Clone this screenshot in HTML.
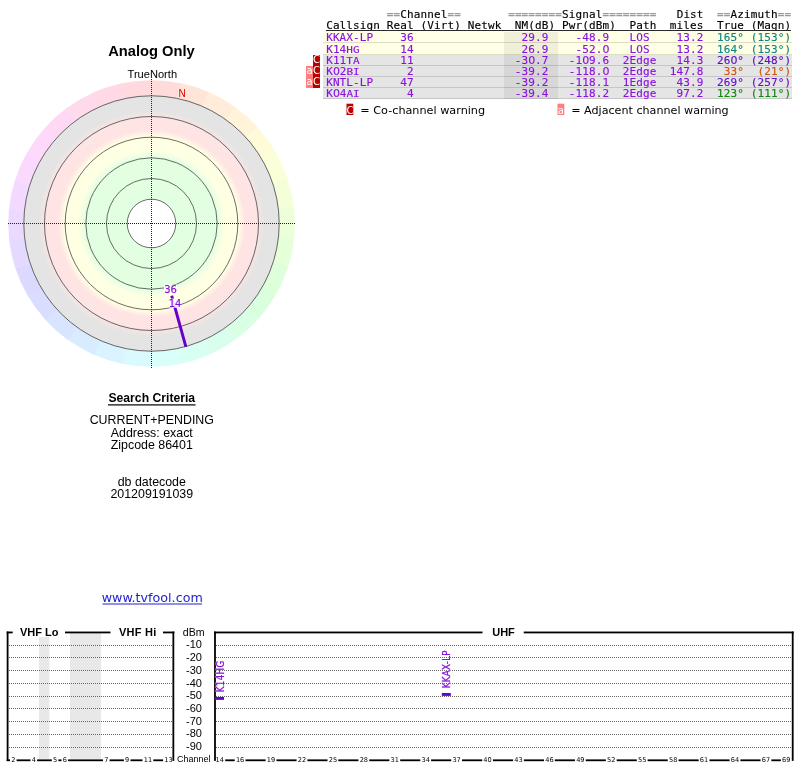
<!DOCTYPE html>
<html lang="en"><head><meta charset="utf-8"><title>TV Fool - Analog Only</title>
<style>
html,body{margin:0;padding:0;background:#fff;}
body{width:800px;height:768px;position:relative;overflow:hidden;}
pre{margin:0;font-family:"DejaVu Sans Mono","Liberation Mono",monospace;font-size:11px;letter-spacing:0.117px;line-height:11px;white-space:pre;position:absolute;left:326.15px;transform:scaleY(0.875);transform-origin:0 9.3px;-webkit-text-stroke:0.15px;}
pre i{font-style:normal;color:#999;font-weight:bold;}
pre b{font-weight:normal;font-family:"DejaVu Sans","Liberation Sans",sans-serif;display:inline-block;width:6.739px;text-align:center;letter-spacing:0;}
.h1{top:8.8px;color:#000;}
.h2{top:19.6px;color:#000;}
.ul{position:absolute;left:326px;top:30.25px;width:465px;height:0.95px;background:#2a2a2a;}
.row{position:absolute;left:323px;width:469px;height:11.15px;box-sizing:border-box;border-bottom:1px solid #c6c6c6;}
.row.y{background:#ffffe6;border-bottom-color:#deddc6;}
.row.g{background:#e5e5e5;}
.row pre{left:3.15px;color:#8a12de;}
.row.first{margin-top:-1px;height:12.15px;padding-top:1px;}
.row.first .nm,.row.first .wa,.row.first .wc{top:1px}

.nm{position:absolute;left:181px;top:0;width:54px;height:11.15px;background:rgba(0,0,0,0.06);}
.sc{display:inline-block;transform:scaleY(0.86);transform-origin:0 9.3px;}
.wa,.wc{position:absolute;top:0;height:11.15px;width:6.8px;font:10px/10.6px "DejaVu Sans","Liberation Sans",sans-serif;color:#fff;text-align:center;}
.wa{left:-16.8px;background:#ff7f7f;}
.wc{left:-10px;background:#bb0000;}
</style></head>
<body>
<svg width="800" height="768" viewBox="0 0 800 768" style="position:absolute;left:0;top:0">
<defs><radialGradient id="bands" gradientUnits="userSpaceOnUse" cx="151.5" cy="223.5" r="128">
<stop offset="0.0000" stop-color="#e2ffe2"/>
<stop offset="0.5156" stop-color="#e2ffe2"/>
<stop offset="0.5742" stop-color="#ffffe4"/>
<stop offset="0.6797" stop-color="#ffffe4"/>
<stop offset="0.7305" stop-color="#ffe4e4"/>
<stop offset="0.8203" stop-color="#ffe4e4"/>
<stop offset="0.8828" stop-color="#e4e4e4"/>
<stop offset="1.0000" stop-color="#e4e4e4"/>
</radialGradient></defs>
<path d="M151.50 223.50 L150.25 80.21 A143.3 143.3 0 0 1 180.56 83.18 Z" fill="#ffdcd9"/>
<path d="M151.50 223.50 L180.07 83.08 A143.3 143.3 0 0 1 209.10 92.29 Z" fill="#ffe4d9"/>
<path d="M151.50 223.50 L208.64 92.09 A143.3 143.3 0 0 1 235.12 107.13 Z" fill="#ffecd9"/>
<path d="M151.50 223.50 L234.71 106.84 A143.3 143.3 0 0 1 257.49 127.06 Z" fill="#fff3d9"/>
<path d="M151.50 223.50 L257.15 126.69 A143.3 143.3 0 0 1 275.22 151.20 Z" fill="#fffbd9"/>
<path d="M151.50 223.50 L274.97 150.77 A143.3 143.3 0 0 1 287.55 178.50 Z" fill="#fbffd9"/>
<path d="M151.50 223.50 L287.39 178.03 A143.3 143.3 0 0 1 293.93 207.78 Z" fill="#f4ffd9"/>
<path d="M151.50 223.50 L293.88 207.28 A143.3 143.3 0 0 1 294.09 237.73 Z" fill="#ecffd9"/>
<path d="M151.50 223.50 L294.14 237.23 A143.3 143.3 0 0 1 288.02 267.07 Z" fill="#e5ffd9"/>
<path d="M151.50 223.50 L288.17 266.59 A143.3 143.3 0 0 1 275.97 294.50 Z" fill="#ddffd9"/>
<path d="M151.50 223.50 L276.22 294.06 A143.3 143.3 0 0 1 258.49 318.83 Z" fill="#d9ffdc"/>
<path d="M151.50 223.50 L258.83 318.45 A143.3 143.3 0 0 1 236.34 338.99 Z" fill="#d9ffe4"/>
<path d="M151.50 223.50 L236.74 338.69 A143.3 143.3 0 0 1 210.47 354.10 Z" fill="#d9ffec"/>
<path d="M151.50 223.50 L210.93 353.90 A143.3 143.3 0 0 1 182.03 363.51 Z" fill="#d9fff3"/>
<path d="M151.50 223.50 L182.52 363.40 A143.3 143.3 0 0 1 152.25 366.80 Z" fill="#d9fffb"/>
<path d="M151.50 223.50 L152.75 366.79 A143.3 143.3 0 0 1 122.44 363.82 Z" fill="#d9fbff"/>
<path d="M151.50 223.50 L122.93 363.92 A143.3 143.3 0 0 1 93.90 354.71 Z" fill="#d9f4ff"/>
<path d="M151.50 223.50 L94.36 354.91 A143.3 143.3 0 0 1 67.88 339.87 Z" fill="#d9ecff"/>
<path d="M151.50 223.50 L68.29 340.16 A143.3 143.3 0 0 1 45.51 319.94 Z" fill="#d9e5ff"/>
<path d="M151.50 223.50 L45.85 320.31 A143.3 143.3 0 0 1 27.78 295.80 Z" fill="#d9ddff"/>
<path d="M151.50 223.50 L28.03 296.23 A143.3 143.3 0 0 1 15.45 268.50 Z" fill="#dcd9ff"/>
<path d="M151.50 223.50 L15.61 268.97 A143.3 143.3 0 0 1 9.07 239.22 Z" fill="#e4d9ff"/>
<path d="M151.50 223.50 L9.12 239.72 A143.3 143.3 0 0 1 8.91 209.27 Z" fill="#ecd9ff"/>
<path d="M151.50 223.50 L8.86 209.77 A143.3 143.3 0 0 1 14.98 179.93 Z" fill="#f3d9ff"/>
<path d="M151.50 223.50 L14.83 180.41 A143.3 143.3 0 0 1 27.03 152.50 Z" fill="#fbd9ff"/>
<path d="M151.50 223.50 L26.78 152.94 A143.3 143.3 0 0 1 44.51 128.17 Z" fill="#ffd9fb"/>
<path d="M151.50 223.50 L44.17 128.55 A143.3 143.3 0 0 1 66.66 108.01 Z" fill="#ffd9f4"/>
<path d="M151.50 223.50 L66.26 108.31 A143.3 143.3 0 0 1 92.53 92.90 Z" fill="#ffd9ec"/>
<path d="M151.50 223.50 L92.07 93.10 A143.3 143.3 0 0 1 120.97 83.49 Z" fill="#ffd9e5"/>
<path d="M151.50 223.50 L120.48 83.60 A143.3 143.3 0 0 1 150.75 80.20 Z" fill="#ffd9dd"/>
<circle cx="151.5" cy="223.5" r="128" fill="url(#bands)"/>
<circle cx="151.5" cy="223.5" r="24.3" fill="#fff"/>
<circle cx="151.5" cy="223.5" r="24.3" fill="none" stroke="#333" stroke-width="0.72"/>
<circle cx="151.5" cy="223.5" r="45" fill="none" stroke="#333" stroke-width="0.72"/>
<circle cx="151.5" cy="223.5" r="65.7" fill="none" stroke="#333" stroke-width="0.72"/>
<circle cx="151.5" cy="223.5" r="86.3" fill="none" stroke="#333" stroke-width="0.72"/>
<circle cx="151.5" cy="223.5" r="107" fill="none" stroke="#333" stroke-width="0.72"/>
<circle cx="151.5" cy="223.5" r="127.7" fill="none" stroke="#333" stroke-width="0.72"/>
<line x1="8" y1="223.5" x2="296" y2="223.5" stroke="#222" stroke-width="1" stroke-dasharray="1 1" shape-rendering="crispEdges"/>
<line x1="151.5" y1="79" x2="151.5" y2="368" stroke="#222" stroke-width="1" stroke-dasharray="1 1" shape-rendering="crispEdges"/>
<line x1="171.67" y1="295.74" x2="185.92" y2="346.78" stroke="#6600cc" stroke-width="2.9"/>
<rect x="164" y="284.6" width="13" height="9.4" fill="#fff" fill-opacity="0.9"/>
<text x="170.5" y="293" text-anchor="middle" font-family="'DejaVu Sans','Liberation Sans',sans-serif" font-size="10" fill="#8614dc" stroke="#8614dc" stroke-width="0.2">36</text>
<rect x="169.2" y="298.5" width="11.6" height="9.2" fill="#fff" fill-opacity="0.9"/>
<text x="175" y="306.8" text-anchor="middle" font-family="'DejaVu Sans','Liberation Sans',sans-serif" font-size="10" fill="#8614dc" stroke="#8614dc" stroke-width="0.2">14</text>
<text x="151.5" y="55.6" text-anchor="middle" font-family="'Liberation Sans',Arial,sans-serif" font-size="14.7" font-weight="bold" fill="#000">Analog Only</text>
<text x="152.3" y="77.8" text-anchor="middle" font-family="'Liberation Sans',Arial,sans-serif" font-size="11.1" fill="#000">TrueNorth</text>
<text x="182" y="96.6" text-anchor="middle" font-family="'Liberation Sans',Arial,sans-serif" font-size="10" fill="#dd0000">N</text>
<text x="151.8" y="401.9" text-anchor="middle" font-family="'Liberation Sans',Arial,sans-serif" font-size="12.2" font-weight="bold" fill="#000">Search Criteria</text>
<rect x="108" y="404.3" width="87.5" height="1.2" fill="#000"/>
<text x="151.8" y="423.6" text-anchor="middle" font-family="'Liberation Sans',Arial,sans-serif" font-size="12.4" fill="#000">CURRENT+PENDING</text>
<text x="151.8" y="436.9" text-anchor="middle" font-family="'Liberation Sans',Arial,sans-serif" font-size="12.4" fill="#000">Address: exact</text>
<text x="151.8" y="449" text-anchor="middle" font-family="'Liberation Sans',Arial,sans-serif" font-size="12.4" fill="#000">Zipcode 86401</text>
<text x="151.8" y="485.8" text-anchor="middle" font-family="'Liberation Sans',Arial,sans-serif" font-size="12.4" fill="#000">db datecode</text>
<text x="151.8" y="497.5" text-anchor="middle" font-family="'Liberation Sans',Arial,sans-serif" font-size="12.4" fill="#000">201209191039</text>
<text x="152.2" y="601.6" text-anchor="middle" font-family="'DejaVu Sans','Liberation Sans',sans-serif" font-size="12.7" fill="#2222cc">www.tvfool.com</text>
<rect x="102.5" y="603.5" width="99.5" height="1" fill="#2222cc"/>
<rect x="346.5" y="103.7" width="6.8" height="11.3" fill="#bb0000"/>
<text x="349.9" y="113.6" text-anchor="middle" font-family="'DejaVu Sans','Liberation Sans',sans-serif" font-size="10" fill="#fff">C</text>
<text x="360.3" y="114.2" font-family="'DejaVu Sans','Liberation Sans',sans-serif" font-size="11.22" fill="#000">= Co-channel warning</text>
<rect x="557.5" y="103.7" width="6.8" height="11.3" fill="#ff7f7f"/>
<text x="560.9" y="113.6" text-anchor="middle" font-family="'DejaVu Sans','Liberation Sans',sans-serif" font-size="10" fill="#fff">a</text>
<text x="571.2" y="114.2" font-family="'DejaVu Sans','Liberation Sans',sans-serif" font-size="11.15" fill="#000">= Adjacent channel warning</text>
<rect x="39" y="637" width="10.3" height="122" fill="#e8e8e8"/>
<rect x="70" y="633" width="31" height="126" fill="#e8e8e8"/>
<line x1="9" y1="645.5" x2="172" y2="645.5" stroke="#666" stroke-width="1" stroke-dasharray="1 1" shape-rendering="crispEdges"/>
<line x1="216" y1="645.5" x2="792" y2="645.5" stroke="#666" stroke-width="1" stroke-dasharray="1 1" shape-rendering="crispEdges"/>
<line x1="9" y1="657.5" x2="172" y2="657.5" stroke="#666" stroke-width="1" stroke-dasharray="1 1" shape-rendering="crispEdges"/>
<line x1="216" y1="657.5" x2="792" y2="657.5" stroke="#666" stroke-width="1" stroke-dasharray="1 1" shape-rendering="crispEdges"/>
<line x1="9" y1="670.5" x2="172" y2="670.5" stroke="#666" stroke-width="1" stroke-dasharray="1 1" shape-rendering="crispEdges"/>
<line x1="216" y1="670.5" x2="792" y2="670.5" stroke="#666" stroke-width="1" stroke-dasharray="1 1" shape-rendering="crispEdges"/>
<line x1="9" y1="683.5" x2="172" y2="683.5" stroke="#666" stroke-width="1" stroke-dasharray="1 1" shape-rendering="crispEdges"/>
<line x1="216" y1="683.5" x2="792" y2="683.5" stroke="#666" stroke-width="1" stroke-dasharray="1 1" shape-rendering="crispEdges"/>
<line x1="9" y1="696.5" x2="172" y2="696.5" stroke="#666" stroke-width="1" stroke-dasharray="1 1" shape-rendering="crispEdges"/>
<line x1="216" y1="696.5" x2="792" y2="696.5" stroke="#666" stroke-width="1" stroke-dasharray="1 1" shape-rendering="crispEdges"/>
<line x1="9" y1="708.5" x2="172" y2="708.5" stroke="#666" stroke-width="1" stroke-dasharray="1 1" shape-rendering="crispEdges"/>
<line x1="216" y1="708.5" x2="792" y2="708.5" stroke="#666" stroke-width="1" stroke-dasharray="1 1" shape-rendering="crispEdges"/>
<line x1="9" y1="721.5" x2="172" y2="721.5" stroke="#666" stroke-width="1" stroke-dasharray="1 1" shape-rendering="crispEdges"/>
<line x1="216" y1="721.5" x2="792" y2="721.5" stroke="#666" stroke-width="1" stroke-dasharray="1 1" shape-rendering="crispEdges"/>
<line x1="9" y1="734.5" x2="172" y2="734.5" stroke="#666" stroke-width="1" stroke-dasharray="1 1" shape-rendering="crispEdges"/>
<line x1="216" y1="734.5" x2="792" y2="734.5" stroke="#666" stroke-width="1" stroke-dasharray="1 1" shape-rendering="crispEdges"/>
<line x1="9" y1="747.5" x2="172" y2="747.5" stroke="#666" stroke-width="1" stroke-dasharray="1 1" shape-rendering="crispEdges"/>
<line x1="216" y1="747.5" x2="792" y2="747.5" stroke="#666" stroke-width="1" stroke-dasharray="1 1" shape-rendering="crispEdges"/>
<rect x="6.7" y="631.55" width="1.8" height="129.35" fill="#000"/>
<rect x="172.45" y="631.55" width="1.8" height="129.35" fill="#000"/>
<rect x="6.7" y="631.55" width="6" height="1.8" fill="#000"/>
<rect x="65" y="631.55" width="45.5" height="1.8" fill="#000"/>
<rect x="163" y="631.55" width="11.4" height="1.8" fill="#000"/>
<text x="20" y="635.7" font-family="'Liberation Sans',Arial,sans-serif" font-size="11" font-weight="bold" fill="#000">VHF Lo</text>
<text x="119" y="635.7" font-family="'Liberation Sans',Arial,sans-serif" font-size="11" font-weight="bold" letter-spacing="0.25" fill="#000">VHF Hi</text>
<rect x="214.1" y="631.55" width="1.8" height="129.35" fill="#000"/>
<rect x="791.8" y="631.55" width="1.8" height="129.35" fill="#000"/>
<rect x="214" y="631.55" width="268.5" height="1.8" fill="#000"/>
<rect x="523.7" y="631.55" width="270" height="1.8" fill="#000"/>
<text x="503.5" y="635.7" text-anchor="middle" font-family="'Liberation Sans',Arial,sans-serif" font-size="11" font-weight="bold" fill="#000">UHF</text>
<text x="193.7" y="635.6" text-anchor="middle" font-family="'Liberation Sans',Arial,sans-serif" font-size="10.6" fill="#000">dBm</text>
<text x="194" y="648.35" text-anchor="middle" font-family="'Liberation Sans',Arial,sans-serif" font-size="11" fill="#000">-10</text>
<text x="194" y="661.07" text-anchor="middle" font-family="'Liberation Sans',Arial,sans-serif" font-size="11" fill="#000">-20</text>
<text x="194" y="673.79" text-anchor="middle" font-family="'Liberation Sans',Arial,sans-serif" font-size="11" fill="#000">-30</text>
<text x="194" y="686.51" text-anchor="middle" font-family="'Liberation Sans',Arial,sans-serif" font-size="11" fill="#000">-40</text>
<text x="194" y="699.23" text-anchor="middle" font-family="'Liberation Sans',Arial,sans-serif" font-size="11" fill="#000">-50</text>
<text x="194" y="711.95" text-anchor="middle" font-family="'Liberation Sans',Arial,sans-serif" font-size="11" fill="#000">-60</text>
<text x="194" y="724.67" text-anchor="middle" font-family="'Liberation Sans',Arial,sans-serif" font-size="11" fill="#000">-70</text>
<text x="194" y="737.39" text-anchor="middle" font-family="'Liberation Sans',Arial,sans-serif" font-size="11" fill="#000">-80</text>
<text x="194" y="750.11" text-anchor="middle" font-family="'Liberation Sans',Arial,sans-serif" font-size="11" fill="#000">-90</text>
<text x="193.7" y="761.6" text-anchor="middle" font-family="'Liberation Sans',Arial,sans-serif" font-size="9" fill="#000">Channel</text>
<rect x="6.7" y="759.4" width="3.3" height="1.8" fill="#000"/>
<rect x="16.6" y="759.4" width="13.9" height="1.8" fill="#000"/>
<rect x="37.1" y="759.4" width="14.7" height="1.8" fill="#000"/>
<rect x="58.4" y="759.4" width="3.1" height="1.8" fill="#000"/>
<rect x="68.1" y="759.4" width="34.9" height="1.8" fill="#000"/>
<rect x="109.6" y="759.4" width="14.3" height="1.8" fill="#000"/>
<rect x="130.5" y="759.4" width="12" height="1.8" fill="#000"/>
<rect x="153.3" y="759.4" width="9.8" height="1.8" fill="#000"/>
<text x="13.3" y="761.9" text-anchor="middle" font-family="'DejaVu Sans','Liberation Sans',sans-serif" font-size="6.6" fill="#000">2</text>
<text x="33.8" y="761.9" text-anchor="middle" font-family="'DejaVu Sans','Liberation Sans',sans-serif" font-size="6.6" fill="#000">4</text>
<text x="55.1" y="761.9" text-anchor="middle" font-family="'DejaVu Sans','Liberation Sans',sans-serif" font-size="6.6" fill="#000">5</text>
<text x="64.8" y="761.9" text-anchor="middle" font-family="'DejaVu Sans','Liberation Sans',sans-serif" font-size="6.6" fill="#000">6</text>
<text x="106.3" y="761.9" text-anchor="middle" font-family="'DejaVu Sans','Liberation Sans',sans-serif" font-size="6.6" fill="#000">7</text>
<text x="127.2" y="761.9" text-anchor="middle" font-family="'DejaVu Sans','Liberation Sans',sans-serif" font-size="6.6" fill="#000">9</text>
<text x="147.9" y="761.9" text-anchor="middle" font-family="'DejaVu Sans','Liberation Sans',sans-serif" font-size="6.6" fill="#000">11</text>
<text x="168.5" y="761.9" text-anchor="middle" font-family="'DejaVu Sans','Liberation Sans',sans-serif" font-size="6.6" fill="#000">13</text>
<rect x="225.2" y="759.4" width="9.52" height="1.8" fill="#000"/>
<rect x="245.52" y="759.4" width="20.13" height="1.8" fill="#000"/>
<rect x="276.45" y="759.4" width="20.13" height="1.8" fill="#000"/>
<rect x="307.38" y="759.4" width="20.13" height="1.8" fill="#000"/>
<rect x="338.31" y="759.4" width="20.13" height="1.8" fill="#000"/>
<rect x="369.24" y="759.4" width="20.13" height="1.8" fill="#000"/>
<rect x="400.17" y="759.4" width="20.13" height="1.8" fill="#000"/>
<rect x="431.1" y="759.4" width="20.13" height="1.8" fill="#000"/>
<rect x="462.03" y="759.4" width="20.13" height="1.8" fill="#000"/>
<rect x="492.96" y="759.4" width="20.13" height="1.8" fill="#000"/>
<rect x="523.89" y="759.4" width="20.13" height="1.8" fill="#000"/>
<rect x="554.82" y="759.4" width="20.13" height="1.8" fill="#000"/>
<rect x="585.75" y="759.4" width="20.13" height="1.8" fill="#000"/>
<rect x="616.68" y="759.4" width="20.13" height="1.8" fill="#000"/>
<rect x="647.61" y="759.4" width="20.13" height="1.8" fill="#000"/>
<rect x="678.54" y="759.4" width="20.13" height="1.8" fill="#000"/>
<rect x="709.47" y="759.4" width="20.13" height="1.8" fill="#000"/>
<rect x="740.4" y="759.4" width="20.13" height="1.8" fill="#000"/>
<rect x="771.33" y="759.4" width="9.52" height="1.8" fill="#000"/>
<text x="219.8" y="761.9" text-anchor="middle" font-family="'DejaVu Sans','Liberation Sans',sans-serif" font-size="6.6" fill="#000">14</text>
<text x="240.12" y="761.9" text-anchor="middle" font-family="'DejaVu Sans','Liberation Sans',sans-serif" font-size="6.6" fill="#000">16</text>
<text x="271.05" y="761.9" text-anchor="middle" font-family="'DejaVu Sans','Liberation Sans',sans-serif" font-size="6.6" fill="#000">19</text>
<text x="301.98" y="761.9" text-anchor="middle" font-family="'DejaVu Sans','Liberation Sans',sans-serif" font-size="6.6" fill="#000">22</text>
<text x="332.91" y="761.9" text-anchor="middle" font-family="'DejaVu Sans','Liberation Sans',sans-serif" font-size="6.6" fill="#000">25</text>
<text x="363.84" y="761.9" text-anchor="middle" font-family="'DejaVu Sans','Liberation Sans',sans-serif" font-size="6.6" fill="#000">28</text>
<text x="394.77" y="761.9" text-anchor="middle" font-family="'DejaVu Sans','Liberation Sans',sans-serif" font-size="6.6" fill="#000">31</text>
<text x="425.7" y="761.9" text-anchor="middle" font-family="'DejaVu Sans','Liberation Sans',sans-serif" font-size="6.6" fill="#000">34</text>
<text x="456.63" y="761.9" text-anchor="middle" font-family="'DejaVu Sans','Liberation Sans',sans-serif" font-size="6.6" fill="#000">37</text>
<text x="487.56" y="761.9" text-anchor="middle" font-family="'DejaVu Sans','Liberation Sans',sans-serif" font-size="6.6" fill="#000">40</text>
<text x="518.49" y="761.9" text-anchor="middle" font-family="'DejaVu Sans','Liberation Sans',sans-serif" font-size="6.6" fill="#000">43</text>
<text x="549.42" y="761.9" text-anchor="middle" font-family="'DejaVu Sans','Liberation Sans',sans-serif" font-size="6.6" fill="#000">46</text>
<text x="580.35" y="761.9" text-anchor="middle" font-family="'DejaVu Sans','Liberation Sans',sans-serif" font-size="6.6" fill="#000">49</text>
<text x="611.28" y="761.9" text-anchor="middle" font-family="'DejaVu Sans','Liberation Sans',sans-serif" font-size="6.6" fill="#000">52</text>
<text x="642.21" y="761.9" text-anchor="middle" font-family="'DejaVu Sans','Liberation Sans',sans-serif" font-size="6.6" fill="#000">55</text>
<text x="673.14" y="761.9" text-anchor="middle" font-family="'DejaVu Sans','Liberation Sans',sans-serif" font-size="6.6" fill="#000">58</text>
<text x="704.07" y="761.9" text-anchor="middle" font-family="'DejaVu Sans','Liberation Sans',sans-serif" font-size="6.6" fill="#000">61</text>
<text x="735" y="761.9" text-anchor="middle" font-family="'DejaVu Sans','Liberation Sans',sans-serif" font-size="6.6" fill="#000">64</text>
<text x="765.93" y="761.9" text-anchor="middle" font-family="'DejaVu Sans','Liberation Sans',sans-serif" font-size="6.6" fill="#000">67</text>
<text x="786.25" y="761.9" text-anchor="middle" font-family="'DejaVu Sans','Liberation Sans',sans-serif" font-size="6.6" fill="#000">69</text>
<rect x="215" y="696.95" width="9" height="2.9" fill="#6600cc"/>
<text transform="translate(223.55 692.15) rotate(-90)" font-family="'DejaVu Sans Condensed','DejaVu Sans',sans-serif" font-stretch="condensed" font-size="9.7" letter-spacing="0.3" fill="#fff" stroke="#fff" stroke-width="1.1" stroke-opacity="0.65" stroke-linejoin="round">K14HG</text>
<text transform="translate(223.55 692.15) rotate(-90)" font-family="'DejaVu Sans Condensed','DejaVu Sans',sans-serif" font-stretch="condensed" font-size="9.7" letter-spacing="0.3" fill="#8614dc" stroke="#8614dc" stroke-width="0.25">K14HG</text>
<rect x="441.82" y="692.997" width="9" height="2.9" fill="#6600cc"/>
<text transform="translate(450.37 688.197) rotate(-90)" font-family="'DejaVu Sans Condensed','DejaVu Sans',sans-serif" font-stretch="condensed" font-size="9.7" letter-spacing="0.3" fill="#fff" stroke="#fff" stroke-width="1.1" stroke-opacity="0.65" stroke-linejoin="round">KKAX-LP</text>
<text transform="translate(450.37 688.197) rotate(-90)" font-family="'DejaVu Sans Condensed','DejaVu Sans',sans-serif" font-stretch="condensed" font-size="9.7" letter-spacing="0.3" fill="#8614dc" stroke="#8614dc" stroke-width="0.25">KKAX-LP</text>
</svg>
<pre class="h1">         <i>==</i>Channel<i>==</i>       <i>========</i>Signal<i>========</i>   Dist  <i>==</i>Azimuth<i>==</i></pre>
<pre class="h2">Callsign Real (Virt) Netwk  NM(dB) Pwr(dBm)  Path  miles  True (Magn)</pre>
<div class="ul"></div>
<div class="row y first" style="top:32.30px"><div class="nm"></div><pre style="top:0.68px">KKAX-LP    36                29.9    -48.9   LOS    13.2  <span style="color:#0f8585">165° (153°)</span></pre></div>
<div class="row y" style="top:43.45px"><div class="nm"></div><pre style="top:0.53px">K14<span class="sc">HG</span>      14                26.9    -52.<b>0</b>   LOS    13.2  <span style="color:#0f8585">164° (153°)</span></pre></div>
<div class="row g" style="top:54.60px"><span class="wc">C</span><div class="nm"></div><pre style="top:0.38px">K11<span class="sc">TA</span>      11               -3<b>0</b>.7   -1<b>0</b>9.6  2Edge   14.3  <span style="color:#5510bb">26<b>0</b>° (248°)</span></pre></div>
<div class="row g" style="top:65.75px"><span class="wa">a</span><span class="wc">C</span><div class="nm"></div><pre style="top:0.23px">K<b>0</b>2<span class="sc">BI</span>       2               -39.2   -118.<b>0</b>  2Edge  147.8  <span style="color:#cc5510"> 33°  (21°)</span></pre></div>
<div class="row g" style="top:76.90px"><span class="wa">a</span><span class="wc">C</span><div class="nm"></div><pre style="top:0.08px">KNTL-LP    47               -39.2   -118.1  1Edge   43.9  <span style="color:#6610cc">269° (257°)</span></pre></div>
<div class="row g" style="top:88.05px"><div class="nm"></div><pre style="top:-0.07px">K<b>0</b>4<span class="sc">AI</span>       4               -39.4   -118.2  2Edge   97.2  <span style="color:#108810">123° (111°)</span></pre></div>
</body></html>
